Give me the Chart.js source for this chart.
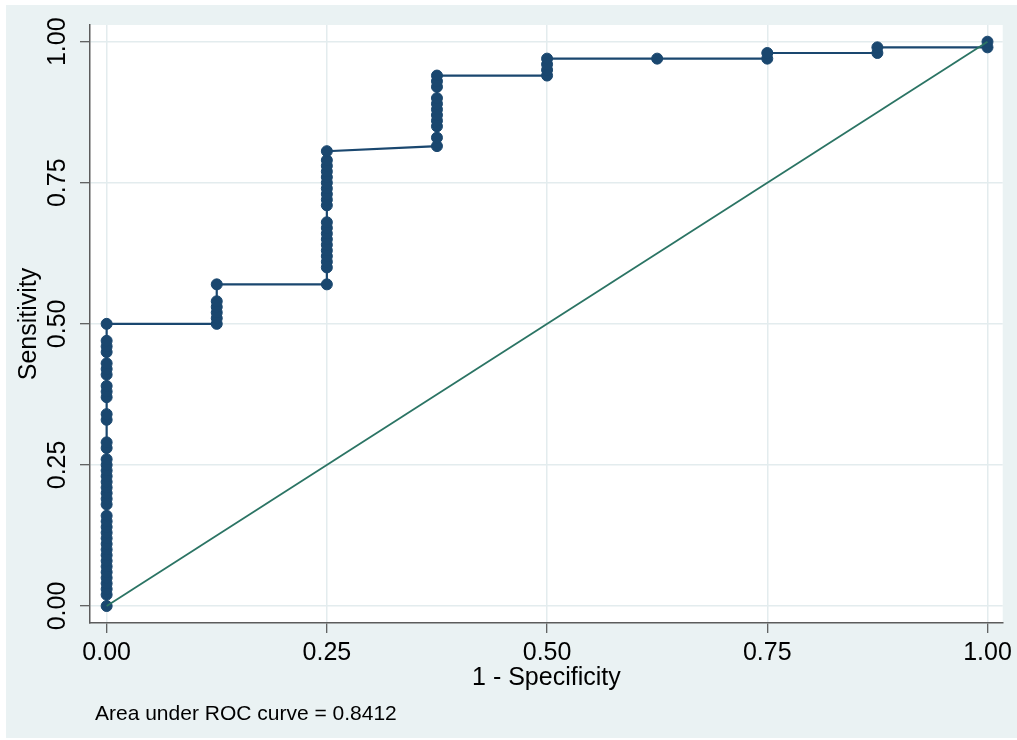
<!DOCTYPE html>
<html>
<head>
<meta charset="utf-8">
<script src="https://cdn.jsdelivr.net/npm/chart.js@4.4.1/dist/chart.umd.min.js"></script>
<style>
  html, body { margin: 0; padding: 0; background: #ffffff; }
  #wrap { width: 1017px; height: 740px; }
</style>
</head>
<body>
<div id="wrap"><canvas id="roc" width="1017" height="740"></canvas></div>
<script>
// 1 - specificity levels (8 negatives -> steps of 0.125)
const fprLevels = [0, 0.125, 0.25, 0.375, 0.5, 0.625, 0.75, 0.875, 1];

// Sensitivity at each cut-off, grouped by the 1 - specificity level above
const sensAt000 = [0.00, 0.02, 0.03, 0.04, 0.05, 0.06, 0.07, 0.08, 0.09, 0.10, 0.11, 0.12,
                   0.13, 0.14, 0.15, 0.16, 0.18, 0.19, 0.20, 0.21, 0.22, 0.23, 0.24, 0.25,
                   0.26, 0.28, 0.29, 0.33, 0.34, 0.37, 0.38, 0.39, 0.41, 0.42, 0.43, 0.45,
                   0.46, 0.47, 0.50];
const sensAt125 = [0.50, 0.51, 0.52, 0.53, 0.54, 0.57];
const sensAt250 = [0.57, 0.60, 0.61, 0.62, 0.63, 0.64, 0.65, 0.66, 0.67, 0.68,
                   0.71, 0.72, 0.73, 0.74, 0.75, 0.76, 0.77, 0.78, 0.79, 0.806];
const sensAt375 = [0.815, 0.83, 0.85, 0.86, 0.87, 0.88, 0.89, 0.90, 0.92, 0.93, 0.94];
const sensAt500 = [0.94, 0.95, 0.96, 0.97];
const sensAt625 = [0.97];
const sensAt750 = [0.97, 0.98];
const sensAt875 = [0.98, 0.99];
const sensAt1000 = [0.99, 1.00];

// Chance (45-degree) reference line
const refX = [0, 1];
const refY = [0, 1];

// Axis ticks
const tickValues = [0, 0.25, 0.5, 0.75, 1];
const tickLabels = ['0.00', '0.25', '0.50', '0.75', '1.00'];

const xTitle = '1 - Specificity';
const yTitle = 'Sensitivity';
const aucNote = 'Area under ROC curve = 0.8412';

// ---- build the point table for the library ----
const sensGroups = [sensAt000, sensAt125, sensAt250, sensAt375, sensAt500,
                    sensAt625, sensAt750, sensAt875, sensAt1000];
const rocPoints = [];
sensGroups.forEach((grp, i) => grp.forEach(s => rocPoints.push({ x: fprLevels[i], y: s })));
const refPoints = refX.map((x, i) => ({ x, y: refY[i] }));

const fontFamily = '"Liberation Sans", Arial, Helvetica, sans-serif';
const bgColor = '#eaf2f3';
const gridColor = '#e3ecee';
const axisColor = '#5c5c5c';
const navy = '#1a476f';
const refGreen = '#2b7464';

// Outer panel, white plot region and the AUC note
const backdrop = {
  id: 'backdrop',
  beforeDraw(chart) {
    const { ctx, chartArea: a, width, height } = chart;
    ctx.save();
    ctx.fillStyle = '#ffffff';
    ctx.fillRect(0, 0, width, height);
    ctx.fillStyle = bgColor;
    ctx.fillRect(6, 5, width - 6, height - 7);
    ctx.fillStyle = '#ffffff';
    ctx.fillRect(a.left, a.top, a.right - a.left, a.bottom - a.top);
    ctx.restore();
  },
  afterDraw(chart) {
    const { ctx } = chart;
    ctx.save();
    ctx.font = '21px ' + fontFamily;
    ctx.fillStyle = '#000000';
    ctx.textBaseline = 'alphabetic';
    ctx.textAlign = 'left';
    ctx.fillText(aucNote, 95, 720);
    ctx.restore();
  }
};

new Chart(document.getElementById('roc'), {
  type: 'scatter',
  data: {
    datasets: [
      {
        label: 'Reference',
        data: refPoints,
        showLine: true,
        borderColor: refGreen,
        borderWidth: 1.8,
        pointRadius: 0,
        order: 1
      },
      {
        label: 'ROC',
        data: rocPoints,
        showLine: true,
        borderColor: navy,
        borderWidth: 2.2,
        pointRadius: 5.5,
        pointBackgroundColor: navy,
        pointBorderColor: navy,
        pointBorderWidth: 1,
        order: 2
      }
    ]
  },
  options: {
    responsive: false,
    animation: false,
    devicePixelRatio: 1,
    layout: { padding: { top: 25, right: 11, left: 0, bottom: 0 } },
    plugins: {
      legend: { display: false },
      tooltip: { enabled: false }
    },
    scales: {
      x: {
        type: 'linear',
        min: -0.0189,
        max: 1.0173,
        afterBuildTicks: s => { s.ticks = tickValues.map(v => ({ value: v })); },
        afterFit: s => { s.height = 117; },
        ticks: {
          autoSkip: false,
          minRotation: 0,
          maxRotation: 0,
          padding: 5,
          color: '#000000',
          font: { family: fontFamily, size: 25 },
          callback: (v, i) => tickLabels[i]
        },
        grid: { color: gridColor, lineWidth: 1.5, tickLength: 10, tickColor: '#333333', tickWidth: 1 },
        border: { display: true, color: axisColor, width: 1.5 },
        title: {
          display: true,
          text: xTitle,
          color: '#000000',
          font: { family: fontFamily, size: 25 },
          padding: { top: 0, bottom: 47 }
        }
      },
      y: {
        type: 'linear',
        min: -0.0301,
        max: 1.0296,
        afterBuildTicks: s => { s.ticks = tickValues.map(v => ({ value: v })); },
        afterFit: s => { s.width = 90; },
        ticks: {
          autoSkip: false,
          minRotation: 90,
          maxRotation: 90,
          crossAlign: 'center',
          padding: -2,
          color: '#000000',
          font: { family: fontFamily, size: 25 },
          callback: (v, i) => tickLabels[i]
        },
        grid: { color: gridColor, lineWidth: 1.5, tickLength: 10, tickColor: '#333333', tickWidth: 1 },
        border: { display: true, color: axisColor, width: 1.5 },
        title: {
          display: true,
          text: yTitle,
          color: '#000000',
          font: { family: fontFamily, size: 25 },
          padding: { top: 14, bottom: 0 }
        }
      }
    }
  },
  plugins: [backdrop]
});
</script>
</body>
</html>
